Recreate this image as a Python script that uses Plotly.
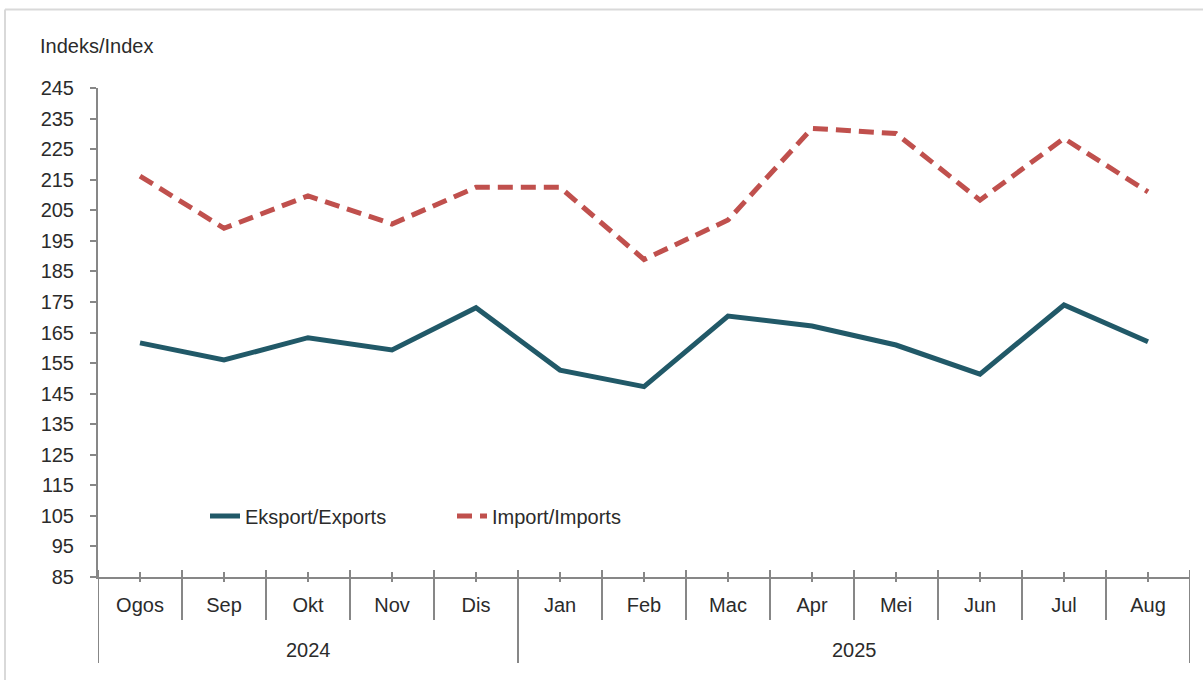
import plotly.graph_objects as go

months = ["Ogos", "Sep", "Okt", "Nov", "Dis", "Jan", "Feb", "Mac", "Apr", "Mei", "Jun", "Jul", "Aug"]
years = ["2024"] * 5 + ["2025"] * 8
exports = [161.6, 156.0, 163.3, 159.3, 173.1, 152.7, 147.3, 170.4, 167.1, 160.9, 151.4, 174.0, 162.0]
imports = [216.2, 199.1, 209.7, 200.5, 212.5, 212.5, 188.9, 201.8, 231.8, 230.1, 208.3, 228.5, 211.0]
y_ticks = list(range(85, 246, 10))

FONT = "Liberation Sans Narrow, Arial Narrow, Liberation Sans, Arial, sans-serif"
FS = 20
TXT = "#2b2b2b"
AX = "#878787"
W, H = 1203, 680
L, R, T, B = 98, 13, 87.5, 103
PH = H - T - B
PW = W - L - R

fig = go.Figure()
fig.add_trace(go.Scatter(
    x=months, y=exports, mode="lines", name="Eksport/Exports",
    line=dict(color="#215968", width=5),
))
fig.add_trace(go.Scatter(
    x=months, y=imports, mode="lines", name="Import/Imports",
    line=dict(color="#C0504D", width=5, dash="15px,8px"),
))
# helper axis for divider/tick shapes
fig.add_trace(go.Scatter(x=[], y=[], xaxis="x2", yaxis="y", showlegend=False, hoverinfo="skip"))

n = len(months)
shapes = []
annotations = []


def py(px_below_axis):
    return -px_below_axis / PH


for i in range(n):
    shapes.append(dict(type="line", xref="x2", yref="paper", x0=i, x1=i, y0=py(-5), y1=py(5),
                       line=dict(color=AX, width=2)))

# year groups
groups = []
start = 0
for i in range(1, n + 1):
    if i == n or years[i] != years[i - 1]:
        groups.append((years[start], start, i - 1))
        start = i
group_bounds = [g[1] - 0.5 for g in groups] + [n - 0.5]
for i in range(n + 1):
    b = i - 0.5
    long = b in group_bounds
    shapes.append(dict(type="line", xref="x2", yref="paper", x0=b, x1=b, y0=py(-7),
                       y1=py(86 if long else 43), line=dict(color=AX, width=2)))
for label, s, e in groups:
    annotations.append(dict(text=label, xref="x2", yref="paper", x=(s + e) / 2, y=py(73),
                            xanchor="center", yanchor="middle", showarrow=False,
                            font=dict(size=FS, color=TXT)))

# outer border (top and left)
bx = -93 / PW
by = (H - B - 9) / PH
shapes.append(dict(type="line", xref="paper", yref="paper", x0=bx, x1=(W - L + 10) / PW,
                   y0=by, y1=by, line=dict(color="#d9d9d9", width=2)))
shapes.append(dict(type="line", xref="paper", yref="paper", x0=bx, x1=bx,
                   y0=by, y1=-(B + 10) / PH, line=dict(color="#d9d9d9", width=2)))

annotations.append(dict(text="Indeks/Index", xref="paper", yref="paper", x=(38 - L) / PW,
                        y=(H - B - 45) / PH, xanchor="left", yanchor="middle", showarrow=False,
                        font=dict(size=FS, color=TXT)))

fig.update_layout(
    width=W, height=H,
    margin=dict(l=L, r=R, t=T, b=B, autoexpand=False),
    paper_bgcolor="white", plot_bgcolor="white",
    font=dict(family=FONT, size=FS, color=TXT),
    showlegend=True,
    legend=dict(orientation="h", x=(205 - L) / PW, y=(H - B - 516) / PH,
                xanchor="left", yanchor="middle", bgcolor="rgba(0,0,0,0)",
                entrywidth=202, entrywidthmode="pixels", font=dict(size=FS, color=TXT)),
    xaxis=dict(type="category", range=[-0.5, n - 0.5], showline=True, linecolor=AX, linewidth=2,
               ticks="outside", ticklen=9, tickcolor="rgba(0,0,0,0)",
               showgrid=False, zeroline=False, tickfont=dict(size=FS, color=TXT), automargin=False),
    xaxis2=dict(overlaying="x", anchor="y", range=[-0.5, n - 0.5], visible=False),
    yaxis=dict(range=[85, 245], tickvals=y_ticks, showline=True, linecolor=AX, linewidth=2,
               ticks="outside", ticklen=6, tickwidth=2, tickcolor=AX, showgrid=False, zeroline=False,
               ticklabelstandoff=12, tickfont=dict(size=FS, color=TXT), automargin=False),
    shapes=shapes,
    annotations=annotations,
)

fig.write_html("out.html", config={"displayModeBar": False},
               post_script="document.body.style.margin='0';")
